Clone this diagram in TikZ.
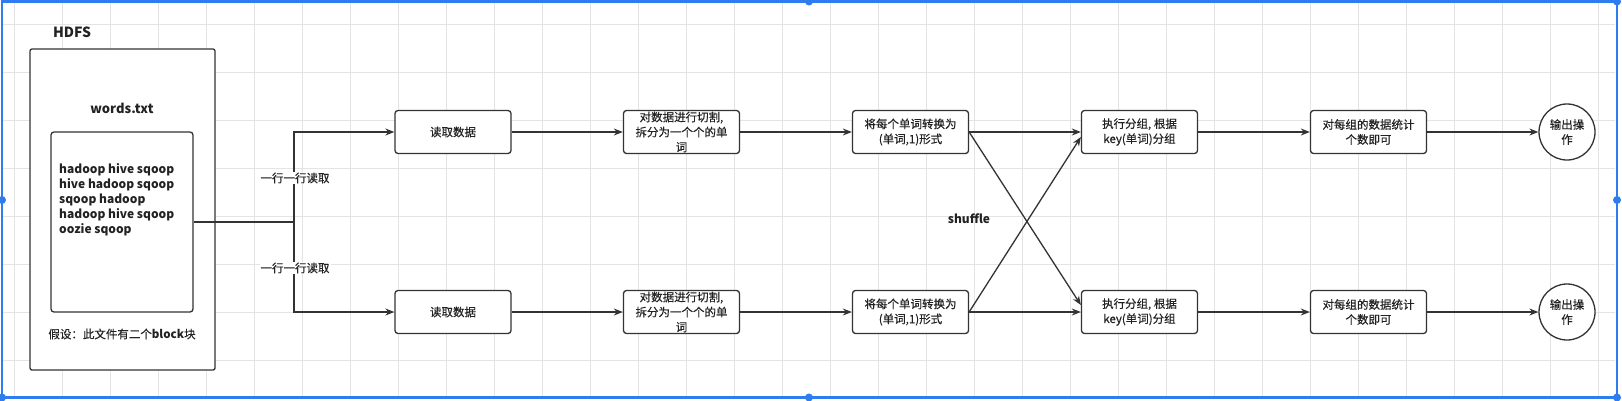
\documentclass[tikz,border=0pt]{standalone}
\usepackage{fontspec}
\setmainfont{Noto Sans CJK SC}[UprightFeatures={FakeBold=0.3}]
\usetikzlibrary{arrows.meta,calc}
\definecolor{ln}{HTML}{333333}
\definecolor{tx}{HTML}{222222}
\definecolor{gridc}{HTML}{E4E4E4}
\definecolor{sel}{HTML}{2F7CF0}
\tikzset{
  box/.style={draw=ln,line width=1.3pt,rounded corners=3pt,fill=white,minimum width=116pt,minimum height=43pt,inner sep=1pt,align=center,text=tx,font=\fontsize{11.5pt}{15pt}\selectfont},
  arr/.style={draw=ln,line width=1.3pt,-{Stealth[length=9pt,width=7pt]}},
  con/.style={draw=ln,line width=1.3pt},
  lab/.style={fill=white,inner sep=1pt,text=tx,font=\fontsize{11.5pt}{14pt}\selectfont},
  handle/.style={fill=sel,draw=none},
}
\begin{document}
\begin{tikzpicture}[x=1pt,y=-1pt]
\useasboundingbox (0,0) rectangle (1622,400);
\fill[white] (0,0) rectangle (1622,400);
% grid
\foreach \gx in {14,62,...,1610} \draw[gridc,line width=0.8pt] (\gx,3) -- (\gx,396);
\foreach \gy in {24,72,...,390} \draw[gridc,line width=0.8pt] (3,\gy) -- (1615,\gy);
% HDFS container
\node[font=\bfseries\fontsize{14pt}{16pt}\selectfont,text=tx] (hdfs) at (72,32) {HDFS};
\node[draw=ln,line width=1.3pt,rounded corners=2pt,fill=white,minimum width=185pt,minimum height=321pt,inner sep=0pt] (outer) at (122.5,209.5) {};
\node[font=\bfseries\fontsize{13pt}{15pt}\selectfont,text=tx] (wt) at (122,108) {words.txt};
\node[draw=ln,line width=1.3pt,rounded corners=3pt,fill=white,minimum width=142pt,minimum height=180pt,inner sep=0pt] (inner) at (122,222) {};
\node[anchor=north west,align=left,inner sep=0pt,text=tx,font=\bfseries\fontsize{12pt}{15pt}\selectfont] (words) at (59,163) {hadoop hive sqoop\\hive hadoop sqoop\\sqoop hadoop\\hadoop hive sqoop\\oozie sqoop};
\node[text=tx,inner sep=0pt,font=\fontsize{11.5pt}{14pt}\selectfont] (note) at (122,334) {假设：此文件有二个\textbf{block}块};
% top row
\node[box] (r1) at (453,132) {读取数据};
\node[box] (s1) at (681.5,132) {对数据进行切割,\\拆分为一个个的单\\词};
\node[box] (c1) at (910.5,132) {将每个单词转换为\\(单词,1)形式};
\node[box] (g1) at (1139.5,132) {执行分组, 根据\\key(单词)分组};
\node[box] (n1) at (1368.5,132) {对每组的数据统计\\个数即可};
\node[draw=ln,line width=1.3pt,circle,minimum size=56pt,inner sep=0pt,fill=white,align=center,text=tx,font=\fontsize{11.5pt}{15pt}\selectfont] (o1) at (1567,132) {输出操\\作};
% bottom row
\node[box] (r2) at (453,312) {读取数据};
\node[box] (s2) at (681.5,312) {对数据进行切割,\\拆分为一个个的单\\词};
\node[box] (c2) at (910.5,312) {将每个单词转换为\\(单词,1)形式};
\node[box] (g2) at (1139.5,312) {执行分组, 根据\\key(单词)分组};
\node[box] (n2) at (1368.5,312) {对每组的数据统计\\个数即可};
\node[draw=ln,line width=1.3pt,circle,minimum size=56pt,inner sep=0pt,fill=white,align=center,text=tx,font=\fontsize{11.5pt}{15pt}\selectfont] (o2) at (1567,312) {输出操\\作};
% split connector
\coordinate (j) at (294,222);
\draw[con] (inner.east) -- (j);
\draw[arr] (j) |- (r1.west);
\draw[arr] (j) |- (r2.west);
\node[lab] (l1) at (295,178) {一行一行读取};
\node[lab] (l2) at (295,268) {一行一行读取};
% row arrows
\draw[arr] (r1) -- (s1);
\draw[arr] (s1) -- (c1);
\draw[arr] (c1) -- (g1);
\draw[arr] (g1) -- (n1);
\draw[arr] (n1) -- (o1);
\draw[arr] (r2) -- (s2);
\draw[arr] (s2) -- (c2);
\draw[arr] (c2) -- (g2);
\draw[arr] (g2) -- (n2);
\draw[arr] (n2) -- (o2);
% shuffle
\draw[arr] (c1.east) -- ($(g2.west)+(0,-7)$);
\draw[arr] (c2.east) -- ($(g1.west)+(0,5)$);
\node[font=\bfseries\fontsize{12pt}{14pt}\selectfont,text=tx] (sh) at (969,219) {shuffle};
% selection frame
\draw[sel,line width=2.5pt] (2,1.5) rectangle (1617,397.5);
\foreach \hx/\hy in {809/1.5,1617/1.5,2/200,1617/200,809/397.5,1617/397.5,2/397.5}
  \fill[handle] (\hx,\hy) circle (4);
\end{tikzpicture}
\end{document}
